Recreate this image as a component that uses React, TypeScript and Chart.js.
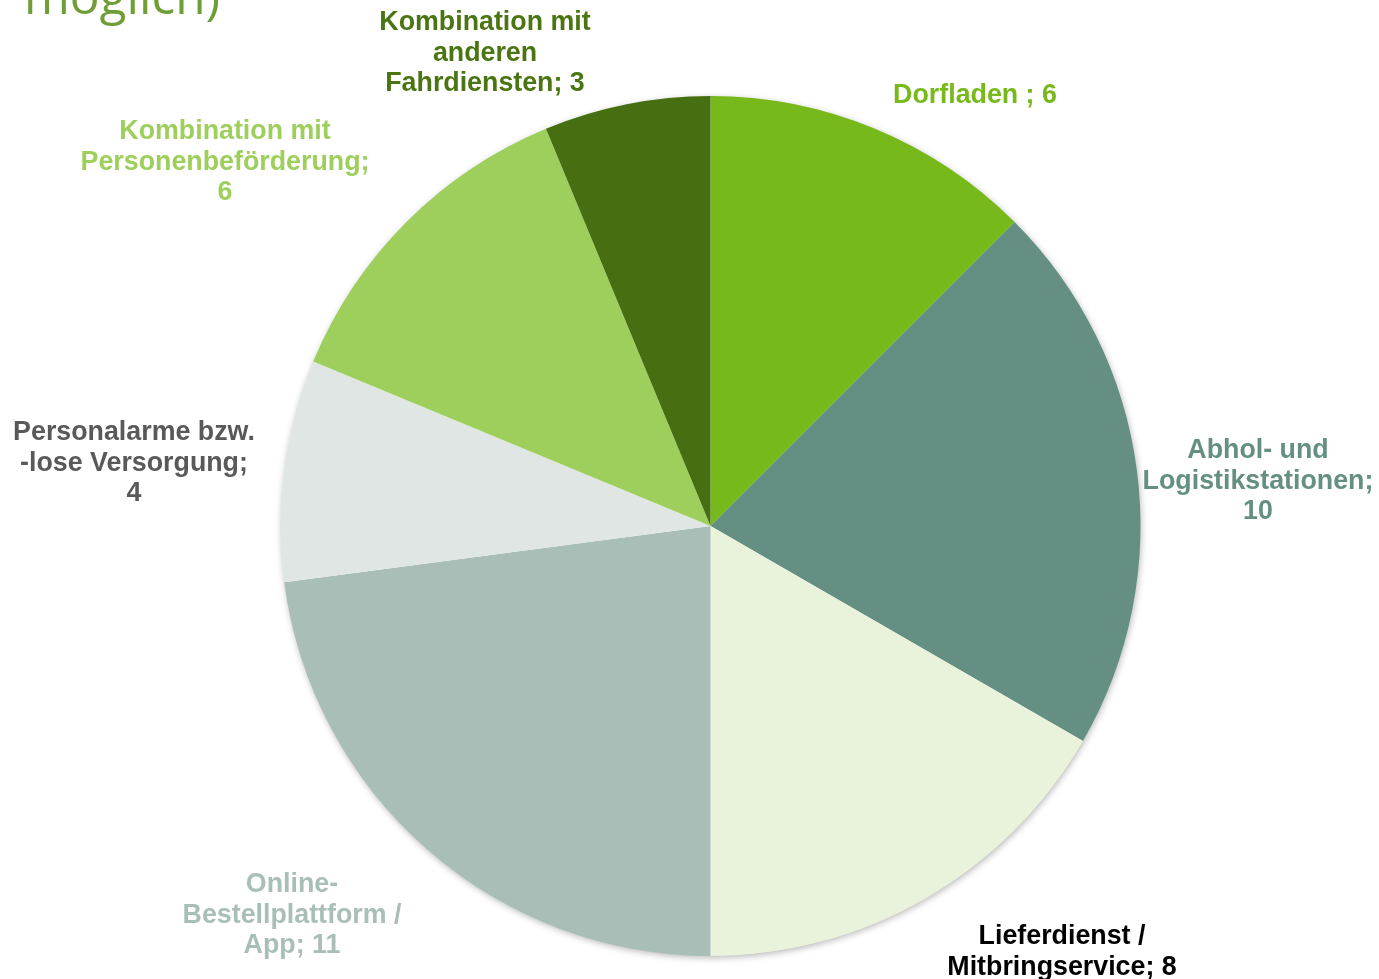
import React, { useEffect, useRef } from "react";
import { Chart, registerables } from "chart.js";

Chart.register(...registerables);

const categories: string[][] = [
  ["Dorfladen ; 6"],
  ["Abhol- und", "Logistikstationen;", "10"],
  ["Lieferdienst /", "Mitbringservice; 8"],
  ["Online-", "Bestellplattform /", "App; 11"],
  ["Personalarme bzw.", "-lose Versorgung;", "4"],
  ["Kombination mit", "Personenbeförderung;", "6"],
  ["Kombination mit", "anderen", "Fahrdiensten; 3"],
];
const names = [
  "Dorfladen",
  "Abhol- und Logistikstationen",
  "Lieferdienst / Mitbringservice",
  "Online-Bestellplattform / App",
  "Personalarme bzw. -lose Versorgung",
  "Kombination mit Personenbeförderung",
  "Kombination mit anderen Fahrdiensten",
];
const values = [6, 10, 8, 11, 4, 6, 3];
const sliceColors = ["#77b81a", "#648f82", "#e9f3dc", "#a8beb7", "#dfe6e3", "#9ecf5c", "#466f11"];
const labelColors = ["#77b81a", "#648f82", "#000000", "#a8beb7", "#595959", "#9ecf5c", "#4a7512"];
const titleText = "möglich)";

// label anchor positions (center x, first-line y) in pixels
const labelPos: [number, number][] = [
  [975, 96],
  [1258, 451],
  [1062, 937],
  [292, 885],
  [134, 433],
  [225, 132],
  [485, 23],
];

export default function App() {
  const ref = useRef<HTMLCanvasElement | null>(null);
  useEffect(() => {
    if (!ref.current) return;
    const labelPlugin = {
      id: "labels",
      beforeDatasetsDraw(chart: any) {
        const ctx = chart.ctx;
        const arc = chart.getDatasetMeta(0).data[0];
        if (!arc) return;
        ctx.save();
        ctx.shadowColor = "rgba(0,0,0,0.3)";
        ctx.shadowBlur = 7;
        ctx.shadowOffsetX = 1;
        ctx.shadowOffsetY = 2;
        ctx.fillStyle = "#ffffff";
        ctx.beginPath();
        ctx.arc(arc.x, arc.y, arc.outerRadius - 0.5, 0, Math.PI * 2);
        ctx.fill();
        ctx.restore();
      },
      afterDraw(chart: any) {
        const ctx = chart.ctx;
        ctx.save();
        ctx.textAlign = "center";
        ctx.textBaseline = "middle";
        ctx.font = "bold 26.8px 'Liberation Sans', Arial, sans-serif";
        categories.forEach((lines, i) => {
          ctx.fillStyle = labelColors[i];
          const [x, y] = labelPos[i];
          lines.forEach((l, j) => ctx.fillText(l, x, y + j * 30.5));
        });
        ctx.font = "49.5px 'Open Sans', sans-serif";
        ctx.textAlign = "left";
        ctx.textBaseline = "alphabetic";
        ctx.fillStyle = "#6f9e37";
        ctx.fillText(titleText, 24, 14);
        ctx.restore();
      },
    };
    const chart = new Chart(ref.current, {
      type: "pie",
      data: {
        labels: names,
        datasets: [
          {
            data: values,
            backgroundColor: sliceColors,
            borderWidth: 0,
          },
        ],
      },
      options: {
        responsive: false,
        animation: false,
        layout: { padding: { top: 96, bottom: 23, left: 280, right: 238 } },
        plugins: { legend: { display: false }, tooltip: { enabled: false }, title: { display: false } },
      },
      plugins: [labelPlugin],
    });
    return () => chart.destroy();
  }, []);
  return (
    <div style={{ position: "absolute", left: 0, top: 0, width: 1379, height: 979, background: "#fff" }}>
      <canvas ref={ref} width={1379} height={979} style={{ display: "block" }} />
    </div>
  );
}
